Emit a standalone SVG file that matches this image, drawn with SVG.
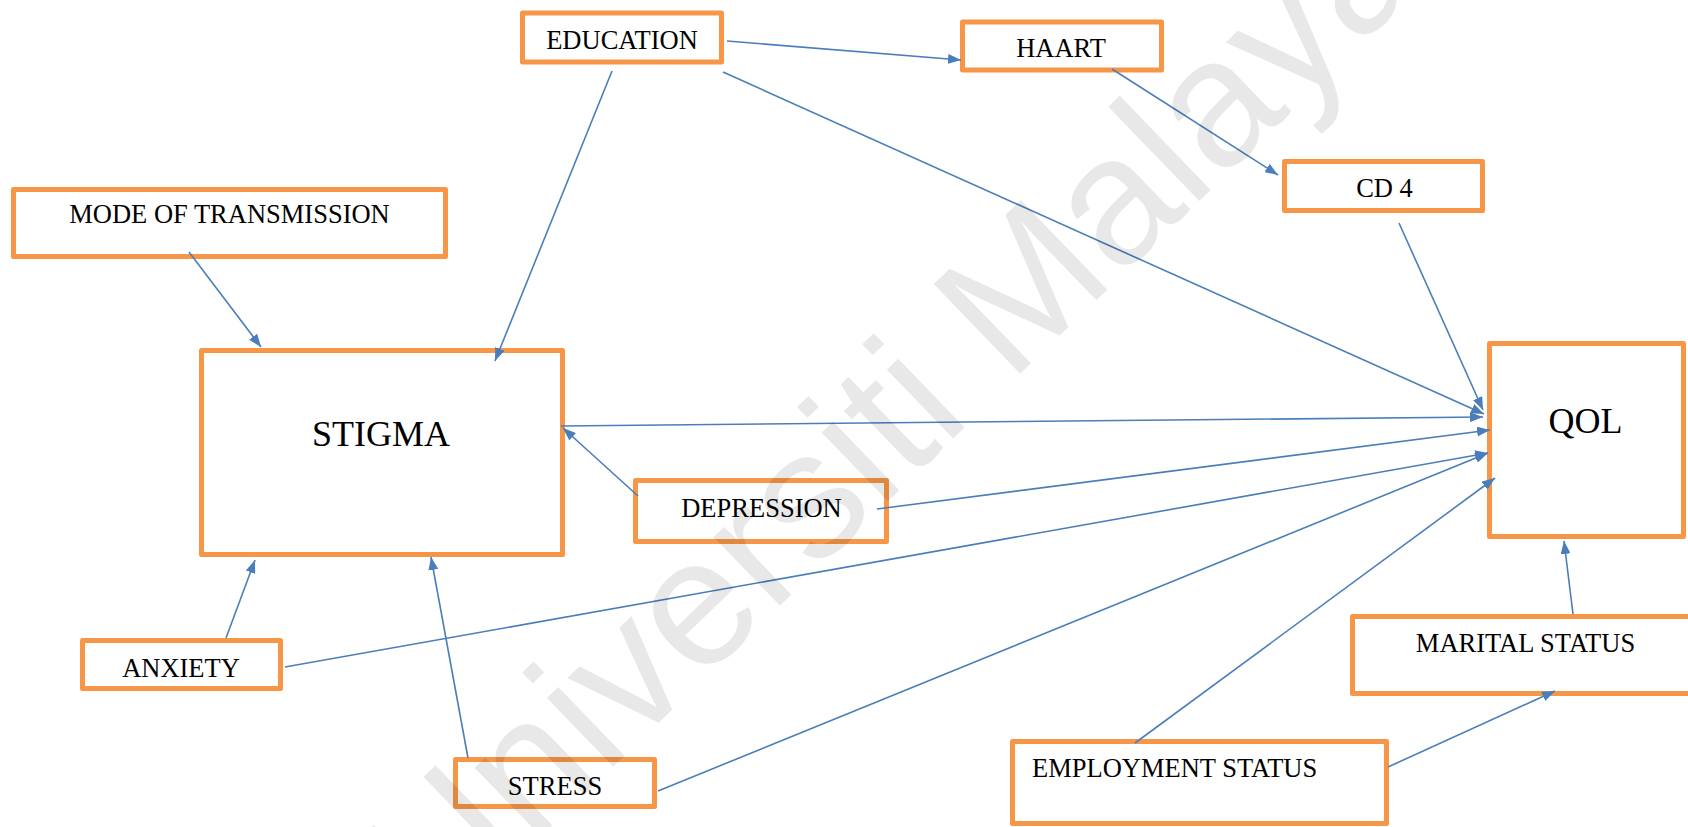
<svg xmlns="http://www.w3.org/2000/svg" width="1688" height="827" viewBox="0 0 1688 827">
<defs>
<style>
.box{fill:#fff;stroke:#F79646;stroke-width:5;stroke-linejoin:round}
.lbl{font-family:"Liberation Serif","Times New Roman",serif;font-size:26.5px;fill:#000}
.big{font-family:"Liberation Serif","Times New Roman",serif;font-size:36px;fill:#000}
.c{stroke:#4A7EBB;stroke-width:1.6;fill:none;marker-end:url(#ah)}
.wm{font-family:"Liberation Sans",Arial,sans-serif;font-size:181px;fill:#000;fill-opacity:0.09}
</style>
<marker id="ah" viewBox="0 0 13 10" refX="13" refY="5" markerWidth="13" markerHeight="10" markerUnits="userSpaceOnUse" orient="auto">
<path d="M0,0 L13,5 L0,10 z" fill="#4A7EBB"/>
</marker>
</defs>
<rect width="1688" height="827" fill="#fff"/>
<g id="node-education"><rect class="box" x="522.5" y="13" width="199" height="49"/><text class="lbl" x="622" y="49" text-anchor="middle">EDUCATION</text></g>
<g id="node-haart"><rect class="box" x="962.5" y="22" width="199" height="48"/><text class="lbl" x="1061" y="57" text-anchor="middle">HAART</text></g>
<g id="node-cd4"><rect class="box" x="1284.5" y="161.5" width="198" height="49"/><text class="lbl" x="1384.5" y="197" text-anchor="middle">CD 4</text></g>
<g id="node-mode"><rect class="box" x="13.5" y="189.5" width="432" height="67"/><text class="lbl" x="229.5" y="223" text-anchor="middle">MODE OF TRANSMISSION</text></g>
<g id="node-stigma"><rect class="box" x="201.5" y="350.5" width="361" height="204"/><text class="big" x="381" y="446" text-anchor="middle">STIGMA</text></g>
<g id="node-qol"><rect class="box" x="1489.5" y="343.5" width="194" height="193"/><text class="big" x="1585.5" y="433" text-anchor="middle">QOL</text></g>
<g id="node-depression"><rect class="box" x="635.5" y="480.5" width="251" height="61"/><text class="lbl" x="761.5" y="517" text-anchor="middle">DEPRESSION</text></g>
<g id="node-anxiety"><rect class="box" x="82.5" y="640.5" width="198" height="48"/><text class="lbl" x="181" y="677" text-anchor="middle">ANXIETY</text></g>
<g id="node-stress"><rect class="box" x="455.5" y="759.5" width="199" height="47"/><text class="lbl" x="555" y="795" text-anchor="middle">STRESS</text></g>
<g id="node-employment"><rect class="box" x="1012.5" y="741.5" width="374" height="82"/><text class="lbl" x="1032" y="777">EMPLOYMENT STATUS</text></g>
<g id="node-marital"><rect class="box" x="1352.5" y="616.5" width="340" height="77"/><text class="lbl" x="1525.5" y="652" text-anchor="middle">MARITAL STATUS</text></g>
<g id="connectors">
<line class="c" x1="189" y1="252" x2="261" y2="347"/>
<line class="c" x1="612" y1="71" x2="495" y2="361"/>
<line class="c" x1="727" y1="41" x2="961" y2="60"/>
<line class="c" x1="723" y1="72" x2="1484" y2="414"/>
<line class="c" x1="1112" y1="69" x2="1278" y2="175"/>
<line class="c" x1="1399" y1="223" x2="1483" y2="410"/>
<line class="c" x1="561" y1="426" x2="1483" y2="417"/>
<line class="c" x1="638" y1="496" x2="563" y2="428"/>
<line class="c" x1="877" y1="509" x2="1490" y2="430"/>
<line class="c" x1="226" y1="638" x2="255" y2="560"/>
<line class="c" x1="285" y1="667" x2="1488" y2="453"/>
<line class="c" x1="468" y1="758" x2="431" y2="557"/>
<line class="c" x1="658" y1="791" x2="1488" y2="453"/>
<line class="c" x1="1135" y1="743" x2="1495" y2="478"/>
<line class="c" x1="1388" y1="767" x2="1555" y2="691"/>
<line class="c" x1="1573" y1="614" x2="1564" y2="541"/>
</g>
<text class="wm" transform="translate(438,936) rotate(-44)">Universiti Malaya</text>
</svg>
